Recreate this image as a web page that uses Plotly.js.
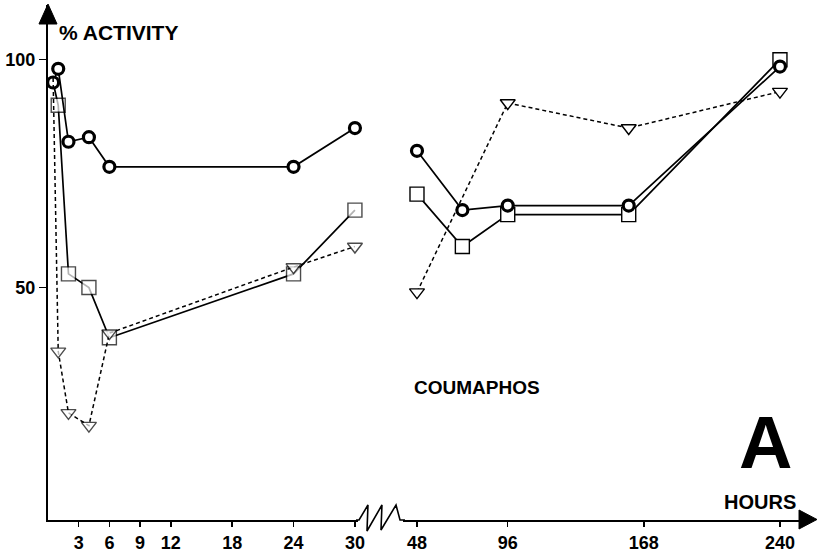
<!DOCTYPE html>
<html>
<head>
<meta charset="utf-8">
<script src="https://cdn.plot.ly/plotly-3.0.1.min.js"></script>
<style>html,body{margin:0;padding:0;background:#fff;}#chart{width:817px;height:554px;}</style>
</head>
<body>
<div id="chart"></div>
<script>
// ---- data ----
const leftHours = [0.5, 1, 2, 4, 6, 24, 30];
const circleLeft = [95, 98, 82, 83, 76.5, 76.5, 85];
const squareLeft = [95, 90, 53, 50, 39, 53, 67];
const triangleLeft = [96, 36, 22.5, 19.7, 40, 54.5, 59];

const rightHours = [48, 72, 96, 160, 240];
const circleRight = [80, 67, 68, 68, 98.5];
const squareRight = [70.5, 59, 66, 66, 100];
const triangleRightHours = [48, 96, 160, 240];
const triangleRight = [49, 90.5, 85, 93];

const leftTicks = [3, 6, 9, 12, 18, 24, 30];
const rightTicks = [48, 96, 168, 240];
const yTicks = [50, 100];

// ---- styles ----
const FONT = 'Liberation Sans, Arial, Helvetica, sans-serif';
const solid = {color: '#000', width: 1.7};
const dashed = {color: '#000', width: 1.5, dash: '4px,3px'};
const circleM = {symbol: 'circle', size: 11, color: '#fff', line: {color: '#000', width: 3.2}};
const sqLine = {color: '#000', width: 1.4};
const triLine = {color: '#000', width: 1.4};

const traces = [
  {x: leftHours, y: squareLeft, xaxis: 'x', yaxis: 'y', mode: 'lines+markers', line: solid, cliponaxis: false,
   marker: {symbol: 'square', size: leftHours.map((_, i) => i === 0 ? 0 : 14), color: '#fff', line: sqLine}},
  {x: rightHours, y: squareRight, xaxis: 'x2', yaxis: 'y', mode: 'lines+markers', line: solid, cliponaxis: false,
   marker: {symbol: 'square', size: 14, color: '#fff', line: sqLine}},
  {x: leftHours, y: circleLeft, xaxis: 'x', yaxis: 'y', mode: 'lines+markers', line: solid, cliponaxis: false, marker: circleM},
  {x: rightHours, y: circleRight, xaxis: 'x2', yaxis: 'y', mode: 'lines+markers', line: solid, cliponaxis: false, marker: circleM},
  {x: leftHours, y: triangleLeft, xaxis: 'x', yaxis: 'y', mode: 'lines+markers', line: dashed, cliponaxis: false,
   marker: {symbol: 'triangle-down', size: leftHours.map((_, i) => i === 0 ? 0 : 13), color: '#fff', line: triLine}},
  {x: triangleRightHours, y: triangleRight, xaxis: 'x2', yaxis: 'y', mode: 'lines+markers', line: dashed, cliponaxis: false,
   marker: {symbol: 'triangle-down', size: 13, color: '#fff', line: triLine}}
];

// plot area: x 48..800, y 5..520
const W = 752, H = 515;
const px = v => (v - 48) / W;
const py = v => (520 - v) / H;
const P = (x, y) => px(x).toFixed(4) + ',' + py(y).toFixed(4);

const zig = 'M' + P(356, 520) + ' L' + P(359, 520) + ' L' + P(368, 505) + ' L' + P(367, 531) +
  ' L' + P(382, 505) + ' L' + P(381, 530) + ' L' + P(396, 505) + ' L' + P(400, 520) + ' L' + P(405, 520);
const xArrow = 'M' + P(799, 510) + ' L' + P(817, 519.5) + ' L' + P(799, 529) + ' Z';
const yArrow = 'M' + P(39, 24) + ' L' + P(48, 4) + ' L' + P(57, 24) + ' Z';

const axisCommon = {
  showgrid: false, zeroline: false, showline: true, linecolor: '#000', linewidth: 2,
  ticks: 'outside', ticklen: 5, tickwidth: 1.5, tickcolor: '#000',
  tickfont: {family: FONT, size: 18, color: '#000', weight: 'bold'}, fixedrange: true
};

const layout = {
  width: 817, height: 554,
  margin: {l: 48, r: 17, t: 5, b: 34},
  paper_bgcolor: '#fff', plot_bgcolor: '#fff',
  showlegend: false,
  xaxis: Object.assign({}, axisCommon, {domain: [0, px(358)], range: [0, 30.3], tickmode: 'array', tickvals: leftTicks, ticktext: leftTicks.map(String), anchor: 'y'}),
  xaxis2: Object.assign({}, axisCommon, {domain: [px(403), 1], range: [40.6, 250.6], tickmode: 'array', tickvals: rightTicks, ticktext: rightTicks.map(String), anchor: 'y'}),
  yaxis: Object.assign({}, axisCommon, {range: [-1, 112], tickmode: 'array', tickvals: yTicks, ticktext: yTicks.map(String), ticklen: 7, domain: [0, 1]}),
  shapes: [
    {type: 'path', xref: 'paper', yref: 'paper', path: zig, line: {color: '#000', width: 1.6}},
    {type: 'path', xref: 'paper', yref: 'paper', path: xArrow, fillcolor: '#000', line: {color: '#000', width: 1}},
    {type: 'path', xref: 'paper', yref: 'paper', path: yArrow, fillcolor: '#000', line: {color: '#000', width: 1}}
  ],
  annotations: [
    {text: '% ACTIVITY', xref: 'paper', yref: 'paper', x: px(57), y: py(32), xanchor: 'left', yanchor: 'middle', showarrow: false,
     font: {family: FONT, size: 21, color: '#000', weight: 'bold'}},
    {text: 'COUMAPHOS', xref: 'paper', yref: 'paper', x: px(412), y: py(387), xanchor: 'left', yanchor: 'middle', showarrow: false,
     font: {family: FONT, size: 19, color: '#000', weight: 'bold'}},
    {text: 'A', xref: 'paper', yref: 'paper', x: px(765), y: py(442), xanchor: 'center', yanchor: 'middle', showarrow: false,
     font: {family: FONT, size: 74, color: '#000', weight: 'bold'}},
    {text: 'HOURS', xref: 'paper', yref: 'paper', x: px(798), y: py(502), xanchor: 'right', yanchor: 'middle', showarrow: false,
     font: {family: FONT, size: 20, color: '#000', weight: 'bold'}}
  ]
};

Plotly.newPlot('chart', traces, layout, {staticPlot: true, displayModeBar: false});
</script>
</body>
</html>
